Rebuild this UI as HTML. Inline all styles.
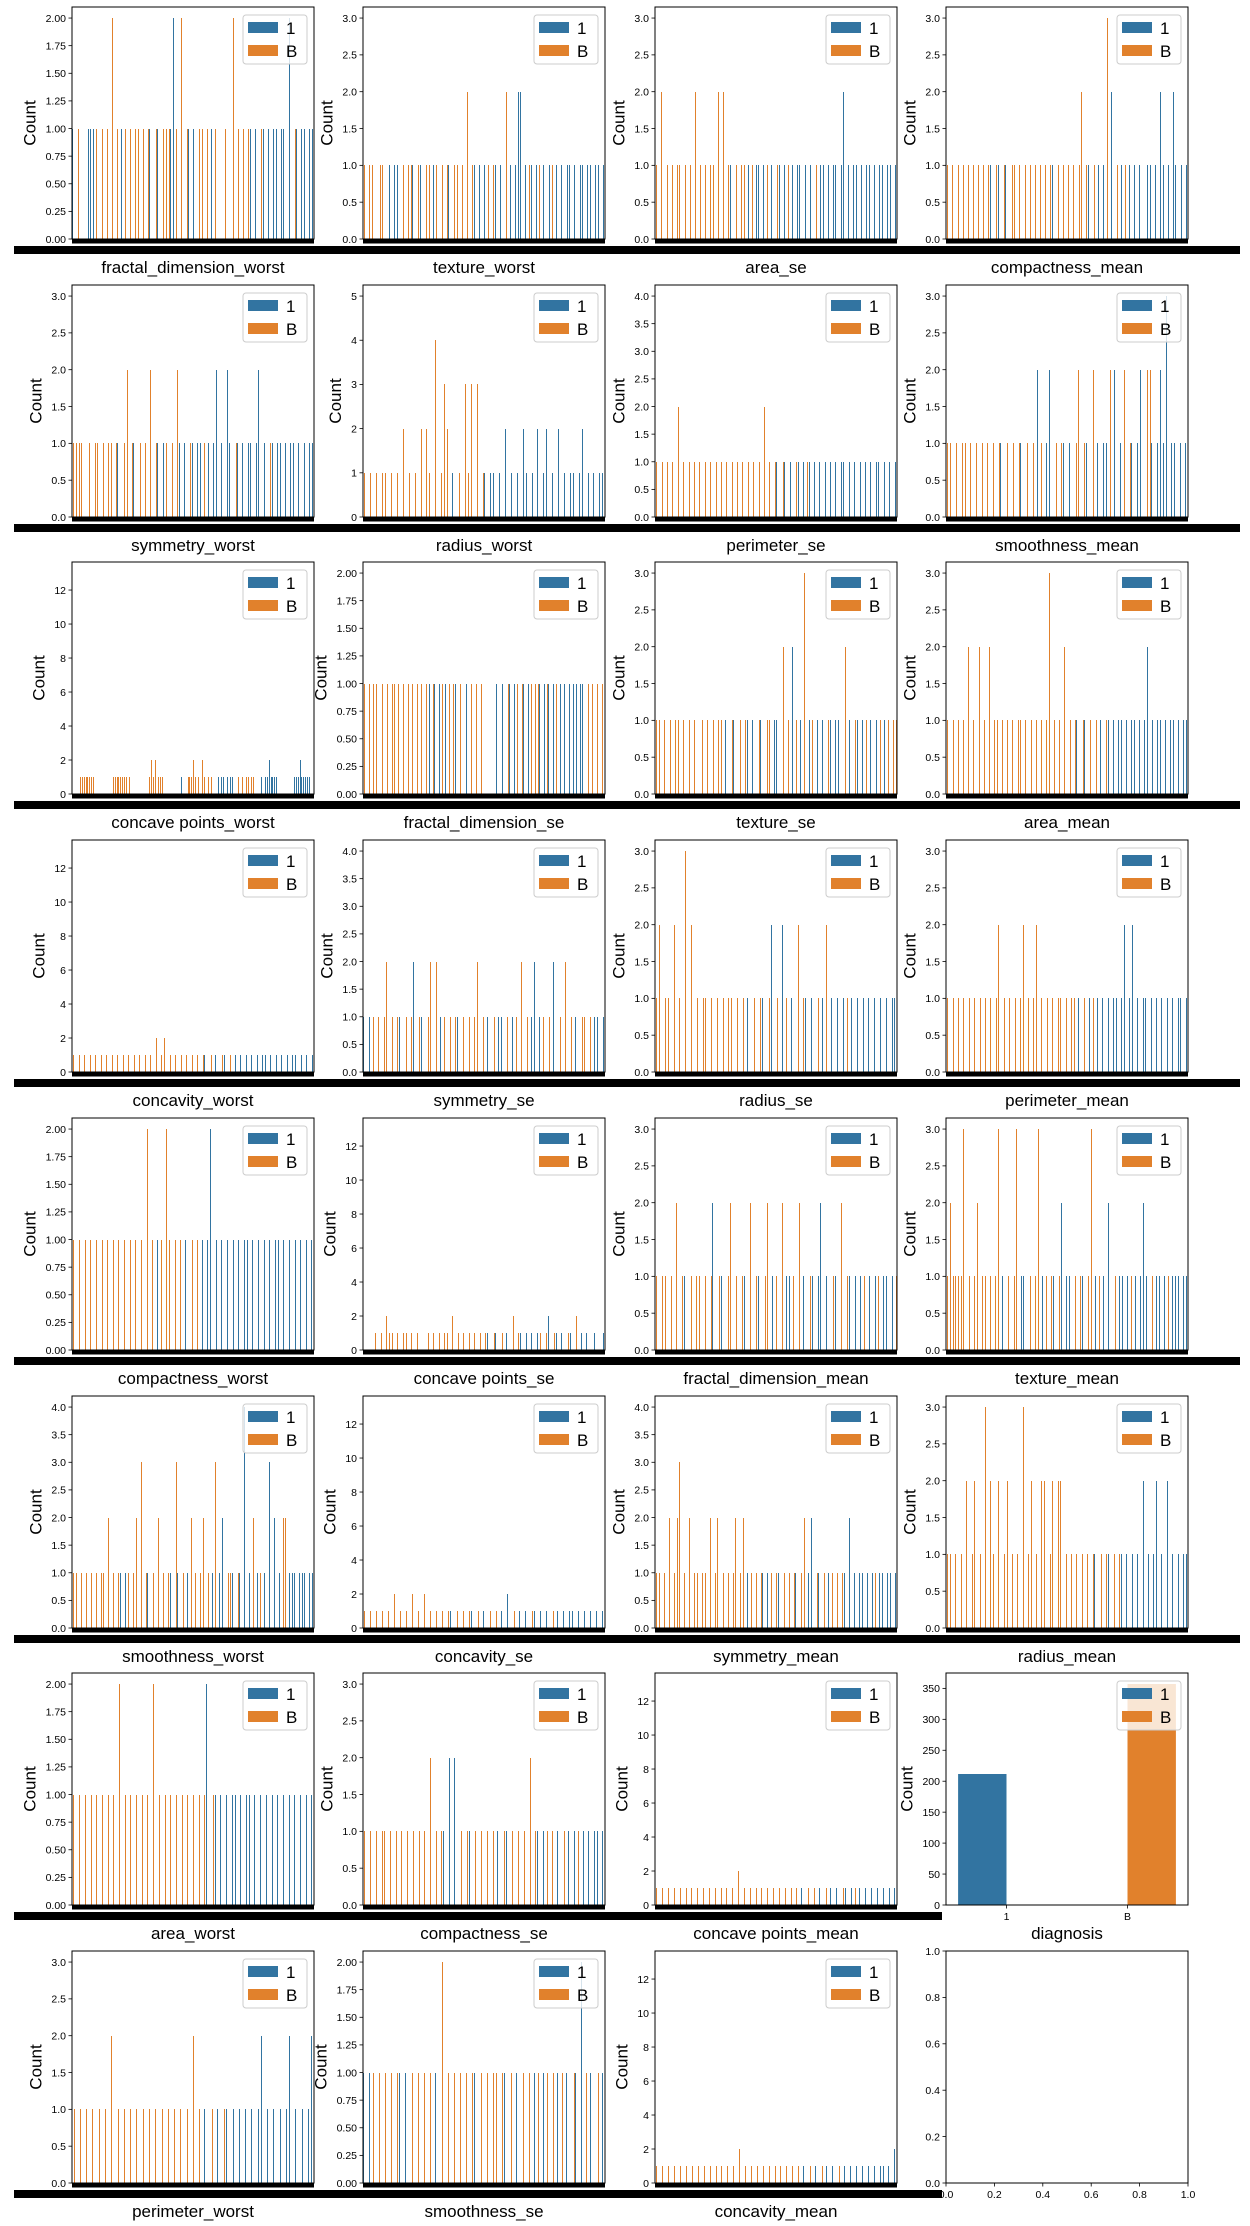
<!DOCTYPE html>
<html><head><meta charset="utf-8">
<style>
html,body{margin:0;padding:0;background:#fff;}
svg{display:block;font-family:"Liberation Sans",sans-serif;}
</style></head>
<body>
<svg id="fig" width="1250" height="2226" viewBox="0 0 1250 2226" xmlns="http://www.w3.org/2000/svg"></svg>
<script>
// Data arrays
const panelNames = [
 "fractal_dimension_worst","texture_worst","area_se","compactness_mean",
 "symmetry_worst","radius_worst","perimeter_se","smoothness_mean",
 "concave points_worst","fractal_dimension_se","texture_se","area_mean",
 "concavity_worst","symmetry_se","radius_se","perimeter_mean",
 "compactness_worst","concave points_se","fractal_dimension_mean","texture_mean",
 "smoothness_worst","concavity_se","symmetry_mean","radius_mean",
 "area_worst","compactness_se","concave points_mean","diagnosis",
 "perimeter_worst","smoothness_se","concavity_mean",""
];
// y-axis upper data value (max count) per panel
const panelMax = [2,3,3,3, 3,5,4,3, 13,2,3,3, 13,4,3,3, 2,13,3,3, 4,13,4,3, 2,3,13,357, 3,2,13,1];
// tick step per panel
const panelStep = [0.25,0.5,0.5,0.5, 0.5,1,0.5,0.5, 2,0.25,0.5,0.5, 2,0.5,0.5,0.5, 0.25,2,0.5,0.5, 0.5,2,0.5,0.5, 0.25,0.5,2,50, 0.5,0.25,2,0.2];
// per category code: . none, o/O/X/Y orange 1/2/3/4, b/B/x/y blue 1/2/3/4
const panelPatterns = [
 "b.o...bbbo.o.o.O.o.bo.o.oo.o.ob.ob.ooobBo.O.ob.b.oo.o.bo...o..O.o.o.ob.b.ob.b.bb.bb.B.ob.bb.bb",
 "o.oo..oo..b.bb.o.oob.ob.oo.bo.o.ob.oo.o.O.ob.b.bo.ob.b.O.b.bBB.bob.bo.b.bo.b.b.bb.b.bb.bb.bb.b",
 "o.O.o.o.oo.o.o.O.o.o.oo.O.O.ob.o.oo.bo.bb.bo.b.ob.bo.b.bb.b.b.o.bb.b.bb.bB.b.bb.b.bb.b.bb.bb.b",
 "o.o.o.o.o.o.o.o.ob.ob.ob.oo.o.o.o.o.o.o.ob.o.o.o.o.oO.ob.o.b.bX.B.o.bo.b.b.b..bb.b.Bb.b.Bb.b.b",
 "oooo..o.oo.o.oo.ob.oO.ob.o.o.O.ob.bo.o.Ob.b.ob.bbo.b.bB.b.Bb.ob.b.bb.bB.b.ob.bb.b.bb.b.b.bb",
 "o.o.o.oo.o.o.O.o.o.O.Oo.Y.oXO.b.o.XoX.X.ob.bb.b.B.b.b.Bb.b.B.bB.b.B.b.bb.bB.b.b.bb",
 "o.o.o.o.O.o.o.o.o.o.o.o.o.o.o.o.o.o.o.o.O.o.ob.ob.b.ob.bob.b.b.b.b.b.bb.b.b.b.b.b.bb.b.b.b",
 "oo.o.oo.o.o.o.o.o.ob.o.o.ob.o.o.Bo.bB.o.ob.b.oO.ob.O.b.bbO.B.bO.ob.bB.OOb.bBbx.bb.b.b",
 "....oooooooo..........oooooooo.o..........oOoO.ooo..........b..oooOo.o.Oo.o.o...b.bb.b.bb..o.o.oo.oo....b.bbBbbbb.........bbbBbbbbb..",
 "o.o.oo..o.o.oo.o.o.o.o.o.o.o.bob.bo.bo.ob.o..b.o.o.o......b..b.ob.bo.ob.bo.oob.bob.bo.b.b.b.bb.bb.o.o.o.o.",
 "oo.o.o.oo.o.o.o..o.o.o.oo.b.ob.o.ob.b.ob.oo.bb.O.o.Bo.bX.bo.b.b.ob.bb.O.b.ob.bo.b.bo.bo.oo",
 "o.o.o.o.O.o.O.o.O.oo.o.o.o.oo.o.o.o.o.oX.o.o.O.o.ob.ob.o.o.b.ob.b.bb.b.bb.b.bB.b.bb.b.bb.b.bb",
 "o.o.o.o.o.o.o.o.o.o.o.o.o.o.o.O.oO.o.o.o.o.o.o.ob.o.b.ob.o.b.b.b.b.b.bb.b.b.b.b.bb.b.b.b",
 "b.bo.o.oO.o.ob.o.oB.ob.oO.O.bo.o.ob.o.o.oO.o.b.o.bb.o.bo.O.o.bB.bo.o.B.o.O.o.b.oo.o.bb.b",
 "oO.oo.O.o.X.O.o.oo.o.o.o.oo.o.o.b.o.ob.oB.o.Bo.b.O.ob.b.o.bO.b.b.bo.b.b.b.b.b.b.b.bb",
 "o.o.o.o.o.o.o.o.o.oO.o.o.o.oO.o.oO.o.o.o.oo.o.oo.b.o.bo.b.b.b.bb.bB.bB.b.bb.b.b.b.b.b.bb.b",
 "o.o.o.o.o.o.o.o.o.o.o.o.o.O.o.bo.Oo.o.o.b.o.o.b.bB.b.b.b.b.b.bb.b.b.b.b.bb.b.b.b.b.b.b",
 "....o.o.Ooo.o.oo.o.o...o.o.o.oo.O.o.o.o.o.o.ob.ob.o.b.O.ob.b.b.bo.oB.ob.b.ob.O.b.b..b..b",
 "o.oo.o.O.ob.o.oo.o.oB.ob.oO.o.ob.O.ob.oO.bo.O.bbo.O.b.ob.bB.b.ob.O.ob.b.bo.b.bo.bb.bo",
 "oOooooX.o.oO.oo.o.oX.b.o.oX.bb.o.oX.bo.ob.oB.bb.o.ob.oX.bo.b.B.o.bb.bo.b.bBb.o.bb.bo.bbb.bb",
 "oo.o.o.o.o.oo.O.o.ob.bo.oO.X.ob.o.O.o.ob.Xb.o.bO.o.oO.o.bX.bB.oob.ob.y.bO.bo.b.x.B.bOO.bbb.bbb.bb",
 "o.o.o.o.o.O.o.o.O.o.O.o.o.o.ob.o.o.ob.o.b.o.o.b.B.o.b.b.ob.b.b.o.b.b.bb.b.b.b.b.b",
 "oo.o.O.oOX.o.O.oo.oo.O.oO.o.o.oO.oO.bo.o.ob.bo.ob.o.o.ob.oO.bB.ob.o.bo.o.ob.B.b.bb.b.bo.bb.bb.b",
 "oo.o.o.O.oO.o.X.Oo.O.oO.o.o.X.oO.o.OO.oO.OO.o.o.o.o.o.ob.o.ob.o.ob.b.b.b.B.b.bB.b.B.b.b.bb",
 "o.o.o.o.o.o.o.o.O.o.o.o.o.o.O.o.o.o.o.o.o.o.o.oB.ob.b.b.bb.b.bb.b.b.b.b.b.b.b.b.b.b.b",
 "o.o.o.oo.o.o.o.o.o.o.o.O.o.ob.B.B.o.ob.o.o.o.o.b.ob.o.o.o.O.ob.bo.o.b.o.b.bo.b.b.bb.b",
 "o.o.o.o.o.o.o.o.o.o.o.o.o.o.O.o.o.o.o.o.o.o.o.o.o.b.o.o.b.o.b.b.ob.bo.b.b.b.b.b.b.b",
 "",
 "o.o.o.o.o.o.O.o.o.o.o.o.o.o.o.o.o.o.o.O.o.b.o.b.ob.b.b.b.b.bB.b.b.b.bB.b.b.bB",
 "b.bo.o.o.o.ob.b.o.o.o.o.b.O.o.o.o.o.ob.o.o.oo.ob.o.b.o.o.bo.bo.o.bo.b.ob.Bo.b.o.b",
 "o.o.o.o.o.o.o.o.o.o.o.o.o.o.O.o.o.o.o.o.o.o.o.o.o.b.o.b.o.b.b.o.b.b.b.b.b.b.bb.b.B",
 ""
];
const diagCategories = ["1","B"];
const diagBlue = [212, 0];
const diagOrange = [0, 357];
const emptyTicks = [0,0.2,0.4,0.6,0.8,1.0];

const NS="http://www.w3.org/2000/svg";
const svg=document.getElementById('fig');
const BLUE="#3274a1", ORANGE="#e1812c";
const colLeft=[72,363,655,946], rowTop=[7,285,562,840,1118,1396,1673,1951];
const AW=242, AH=232;
function mk(tag,attrs,parent){const e=document.createElementNS(NS,tag);for(const k in attrs)e.setAttribute(k,attrs[k]);(parent||svg).appendChild(e);return e;}
function fmt(v,step){ if(step>=1) return String(Math.round(v)); if(step===0.25) return v.toFixed(2); return v.toFixed(1);}
function countOf(ch){const m={'o':['o',1],'O':['o',2],'X':['o',3],'Y':['o',4],'b':['b',1],'B':['b',2],'x':['b',3],'y':['b',4]};return m[ch]||null;}

for(let p=0;p<32;p++){
  const r=Math.floor(p/4), c=p%4;
  const L=colLeft[c], T=rowTop[r], B=T+AH, R=L+AW;
  const g=mk('g',{});
  
  
  const ymax = p===31?1:panelMax[p]*1.05;
  const ys=v=>B-v/ymax*AH;
  const step=panelStep[p];
  const topTick = p===31?1:Math.floor(ymax/step+1e-9)*step;
  let maxW=0;
  for(let v=0; v<=topTick+1e-9; v+=step){
    const y=ys(v);
    mk('line',{x1:L-3.5,x2:L,y1:y,y2:y,stroke:'#000','stroke-width':0.8},g);
    const s=fmt(v,step);
    const t=mk('text',{x:L-6,y:y+3.8,'font-size':10.5,'text-anchor':'end',fill:'#000'},g);
    t.textContent=s;
    
    
    let w=0;for(const ch of s)w+=(ch==='.'?2.9:5.85);maxW=Math.max(maxW,w);
  }
  const cx=L-maxW-22, cy=T+AH/2;
  const yl=mk('text',{x:cx,y:cy,'font-size':17,'text-anchor':'middle',transform:`rotate(-90 ${cx} ${cy})`,dy:6,fill:'#000'},g);
  yl.textContent='Count';
  
  
  if(p===31){ yl.remove();
    for(const v of emptyTicks){const x=L+v*AW;
      mk('line',{x1:x,x2:x,y1:B,y2:B+3.5,stroke:'#000','stroke-width':0.8},g);
      const t=mk('text',{x:x,y:B+15,'font-size':10.5,'text-anchor':'middle'},g);t.textContent=v.toFixed(1);
      
      }
  } else if(p===27){
    const n=diagCategories.length, w=AW/n;
    for(let i=0;i<n;i++){
      const x0=L+i*w;
      if(diagBlue[i]>0){const rb=mk('rect',{x:x0+0.1*w,y:Math.round(ys(diagBlue[i])),width:0.4*w,height:B-Math.round(ys(diagBlue[i])),fill:BLUE},g);
        
        }
      if(diagOrange[i]>0){const ro=mk('rect',{x:x0+0.5*w,y:Math.round(ys(diagOrange[i])),width:0.4*w,height:B-Math.round(ys(diagOrange[i])),fill:ORANGE},g);
        
        }
      const xc=x0+w/2;
      mk('line',{x1:xc,x2:xc,y1:B,y2:B+3.5,stroke:'#000','stroke-width':0.8},g);
      const t=mk('text',{x:xc,y:B+15,'font-size':10.5,'text-anchor':'middle'},g);t.textContent=diagCategories[i];
      
      
    }
  } else {
    const pat=panelPatterns[p], n=pat.length, w=AW/n;
    for(let i=0;i<n;i++){
      const cc=countOf(pat[i]); if(!cc) continue;
      const x0=Math.round(L+i*w + (cc[0]==='b'?0.1*w:0.5*w));
      const bw=Math.max(Math.round(0.4*w),1);
      const yt=Math.round(ys(cc[1]));
      const rb=mk('rect',{x:x0,y:yt,width:bw,height:B-yt,fill:cc[0]==='b'?BLUE:ORANGE,'shape-rendering':'crispEdges'},g);
      
      
    }
    const tb=mk('rect',{x:L,y:B,width:AW,height:4.5,fill:'#000'},g);
    
    
    const bandL=Math.max(0,L-58), bandR=Math.min(1250,R+(c===2?45:52));
    const lb=mk('rect',{x:bandL,y:B+7,width:bandR-bandL,height:8,fill:'#000'},g);
    
    
  }
  mk('rect',{x:L,y:T,width:AW,height:AH,fill:'none',stroke:'#000','stroke-width':1},g);
  if(p!==31){
    const xl=mk('text',{x:L+AW/2,y:B+34,'font-size':17,'text-anchor':'middle',fill:'#000'},g);
    xl.textContent=panelNames[p];
    
    
    const lg=mk('g',{},g);
    
    
    mk('rect',{x:R-71,y:T+8,width:64,height:49,rx:3,fill:'rgba(255,255,255,0.8)',stroke:'#ccc','stroke-width':1},lg);
    mk('rect',{x:R-66,y:T+15,width:30,height:11,fill:BLUE},lg);
    mk('rect',{x:R-66,y:T+38,width:30,height:11,fill:ORANGE},lg);
    const t1=mk('text',{x:R-28,y:T+27,'font-size':17},lg);t1.textContent='1';
    
    
    const t2=mk('text',{x:R-28,y:T+50,'font-size':17},lg);t2.textContent='B';
    
    
  }
}
</script>
</body></html>
